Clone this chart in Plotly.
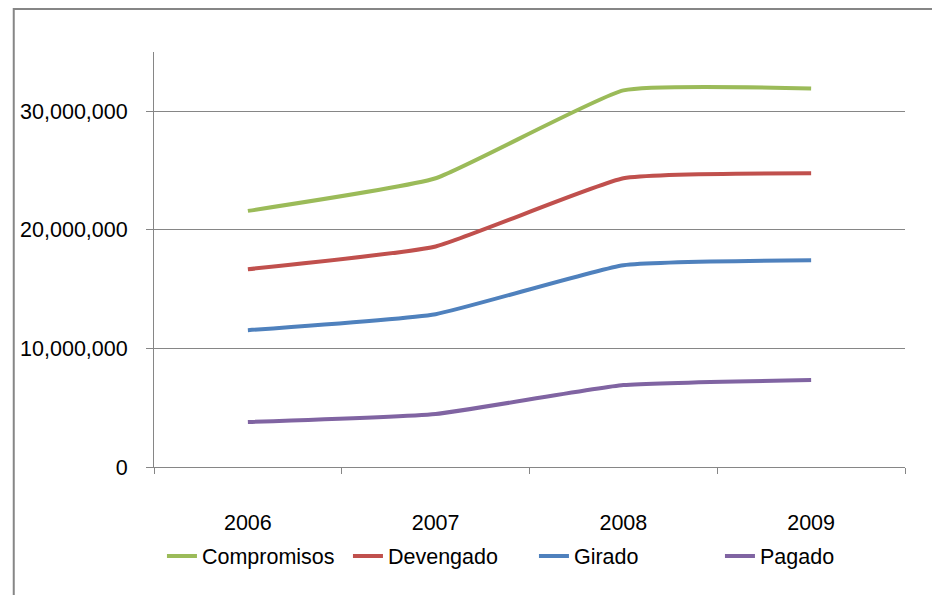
import plotly.graph_objects as go

years = ["2006", "2007", "2008", "2009"]
compromisos = [21600000, 24350000, 31760000, 31930000]
devengado = [16680000, 18600000, 24350000, 24770000]
girado = [11540000, 12890000, 17020000, 17440000]
pagado = [3790000, 4470000, 6910000, 7330000]

series = [
    ("Compromisos", compromisos, "#9BBB59"),
    ("Devengado", devengado, "#C0504D"),
    ("Girado", girado, "#4F81BD"),
    ("Pagado", pagado, "#8064A2"),
]

fig = go.Figure()
for name, vals, col in series:
    fig.add_trace(go.Scatter(
        x=years, y=vals, name=name, mode="lines",
        line=dict(color=col, width=4, shape="spline", smoothing=0.4),
    ))

font = dict(family="Liberation Sans, Arial, sans-serif", size=21.5, color="#000000")
grey = "#868686"

L, T = 142, 44
W, H = 755, 415
fig.update_layout(
    width=940, height=595,
    margin=dict(l=L, r=940 - L - W, t=T, b=595 - T - H, pad=0),
    paper_bgcolor="white", plot_bgcolor="white",
    font=font,
    showlegend=True,
    legend=dict(orientation="h", x=(158 - 150) / W, xanchor="left",
                y=(467 - 556) / H, yanchor="middle",
                entrywidth=141, entrywidthmode="pixels",
                font=font, traceorder="normal"),
    xaxis=dict(type="category", range=[-0.5, 3.5], showgrid=False,
               showline=True, linecolor=grey, linewidth=1,
               ticks="outside", tickson="boundaries", ticklen=6, tickcolor=grey,
               ticklabelstandoff=36, tickfont=font),
    yaxis=dict(range=[0, 35000000], dtick=10000000, tickformat=",d",
               showgrid=True, gridcolor=grey, gridwidth=1,
               showline=True, linecolor=grey, linewidth=1,
               ticks="outside", ticklen=7, tickcolor=grey,
               ticklabelstandoff=14, tickfont=font, zeroline=False),
    shapes=[dict(type="rect", xref="paper", yref="paper",
                 x0=(9 - 150) / W, x1=(960 - 150) / W,
                 y0=(467 - 620) / H, y1=1 + (T - 1) / H,
                 line=dict(color=grey, width=2), fillcolor="rgba(0,0,0,0)",
                 layer="below")],
)

fig.write_html("out.html")
